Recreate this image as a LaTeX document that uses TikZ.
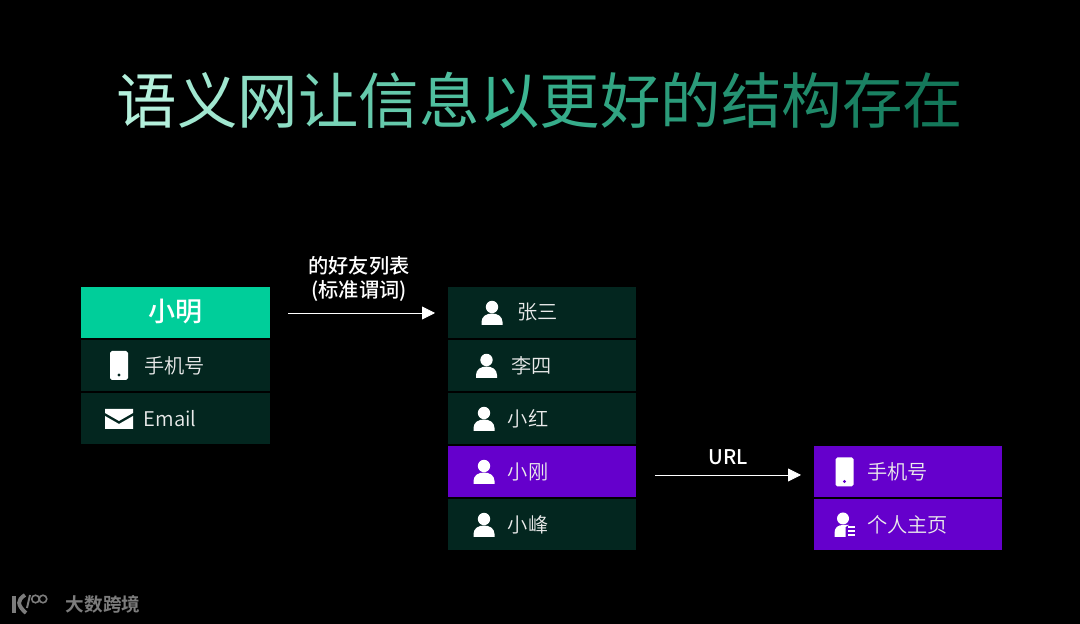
\documentclass[tikz,border=0pt]{standalone}
\usepackage{fontspec}
\usepackage{tikz}
\usetikzlibrary{arrows.meta,positioning}
\setmainfont{Noto Sans CJK SC}[UprightFont=* DemiLight,BoldFont=* Medium]
\newfontfamily\brandfont{Noto Sans CJK SC}[UprightFont=* Bold]
\newfontfamily\titlefont{Noto Sans CJK SC}
\definecolor{titlestart}{HTML}{B4F0DC}
\definecolor{titlemid}{HTML}{3CB592}
\definecolor{titleend}{HTML}{14785A}
\definecolor{headgreen}{HTML}{00CE9A}
\definecolor{rowdark}{HTML}{03261F}
\definecolor{rowpurple}{HTML}{6500CC}
\definecolor{logogray}{HTML}{7C7C7C}

\begin{document}
\begin{tikzpicture}[
    x=0.02cm, y=-0.02cm,
    >={Triangle[length=2.6mm,width=2.6mm]},
    rowbox/.style={rectangle, minimum width=3.78cm, minimum height=1.02cm, inner sep=0pt, outer sep=0pt},
    rowdk/.style={rowbox, fill=rowdark},
    rowpp/.style={rowbox, fill=rowpurple},
    rowtext/.style={anchor=west, inner sep=0pt, text=white!92!black, font=\fontsize{11.5pt}{13pt}\selectfont},
    edge label/.style={text=white, inner sep=0pt, align=center, font=\bfseries\fontsize{11.5pt}{13.6pt}\selectfont},
    link/.style={->, draw=white, line width=0.45pt},
    pics/person/.style={code={
        \fill[white] (0,-6) circle (6.2);
        \fill[white] (-10.5,12) -- (-10.5,9) .. controls (-10.5,3) and (-5,0.5) .. (0,0.5)
            .. controls (5,0.5) and (10.5,3) .. (10.5,9) -- (10.5,12) -- cycle;
    }},
    pics/phone/.style={code={
        \fill[white, rounded corners=1pt] (-9,-14.5) rectangle (9,14.5);
        \fill[#1] (0,9.5) circle (1.7);
    }}
]
    \path[fill=black] (0,0) rectangle (1080,624);

    % title
    \node[inner sep=0pt, font=\titlefont\fontsize{34.4pt}{40pt}\selectfont] (title) at (540,100) {%
        \foreach \ch [count=\i] in {语,义,网,让,信,息,以,更,好,的,结,构,存,在} {%
            \pgfmathtruncatemacro{\pct}{\i<7 ? (\i-1)*100/6 : (\i-7)*100/7}%
            \ifnum\i<7
                \textcolor{titlemid!\pct!titlestart}{\ch}%
            \else
                \textcolor{titleend!\pct!titlemid}{\ch}%
            \fi}};

    % left column
    \node[rowbox, fill=headgreen] (ming) at (175.5,312.5) {};
    \node[rowdk] (mingphone) at (175.5,365.5) {};
    \node[rowdk] (mingmail) at (175.5,418.5) {};
    \node[inner sep=0pt, text=white, font=\bfseries\fontsize{15.4pt}{18pt}\selectfont] (mingname) at (175.5,311.5) {小明};
    \node[rowtext] (mingphonetext) at (144,365.5) {手机号};
    \node[rowtext] (mingmailtext) at (143.5,418.5) {Email};
    \pic at (119,365.5) {phone=rowdark};
    \fill[white] (105,409) -- (133,409) -- (133,413) -- (119,421) -- (105,413) -- cycle;
    \fill[white] (105,416) -- (119,424) -- (133,416) -- (133,429) -- (105,429) -- cycle;

    % friend column
    \node[rowdk] (zhang) at (542,312.5) {};
    \node[rowdk] (li) at (542,365.5) {};
    \node[rowdk] (hong) at (542,418.5) {};
    \node[rowpp] (gang) at (542,471.5) {};
    \node[rowdk] (feng) at (542,524.5) {};
    \node[rowtext] (zhangtext) at (517,312.5) {张三};
    \node[rowtext] (litext) at (511,365.5) {李四};
    \node[rowtext] (hongtext) at (507.5,418.5) {小红};
    \node[rowtext] (gangtext) at (507.5,471.5) {小刚};
    \node[rowtext] (fengtext) at (507.5,524.5) {小峰};
    \pic at (492,313) {person};
    \pic at (486.5,366) {person};
    \pic at (484,419) {person};
    \pic at (484,472) {person};
    \pic at (484,525) {person};

    % right column
    \node[rowpp] (gangphone) at (908,471.5) {};
    \node[rowpp] (ganghome) at (908,524.5) {};
    \node[rowtext] (gangphonetext) at (867,471.5) {手机号};
    \node[rowtext] (ganghometext) at (867,524.5) {个人主页};
    \pic at (844.5,472) {phone=rowpurple};
    \fill[white] (843,518.5) circle (6);
    \fill[white] (834.5,537) -- (834.5,533) .. controls (834.5,527.5) and (838,525) .. (843,525)
        -- (849,525) -- (845.5,527) -- (845.5,537) -- cycle;
    \foreach \y in {527,531,535} {
        \fill[white] (847.5,\y-1) rectangle (855,\y+1);
    }

    % connectors
    \coordinate (predstart) at (288,313);
    \coordinate (predend) at (435,313);
    \coordinate (urlstart) at (655,475);
    \coordinate (urlend) at (801,475);
    \draw[link] (predstart) -- (predend);
    \draw[link] (urlstart) -- (urlend);
    \node[edge label] (predlabel) at (359,279) {的好友列表\\(标准谓词)};
    \node[edge label] (urllabel) at (728,457) {URL};

    % logo
    \draw[logogray, line width=2.2pt] (14,596) -- (14,613);
    \draw[logogray, line width=2.2pt] (25,595) .. controls (17,600) and (17,605) .. (26,613);
    \draw[logogray, line width=1.1pt] (30,595) -- (27,608);
    \draw[logogray, line width=0.9pt] (35.5,599) circle (3.8);
    \draw[logogray, line width=0.9pt] (43,599) circle (3.8);
    \node[inner sep=0pt, text=logogray, font=\brandfont\fontsize{10.6pt}{12pt}\selectfont] (brand) at (103,604.5) {大数跨境};
\end{tikzpicture}
\end{document}
